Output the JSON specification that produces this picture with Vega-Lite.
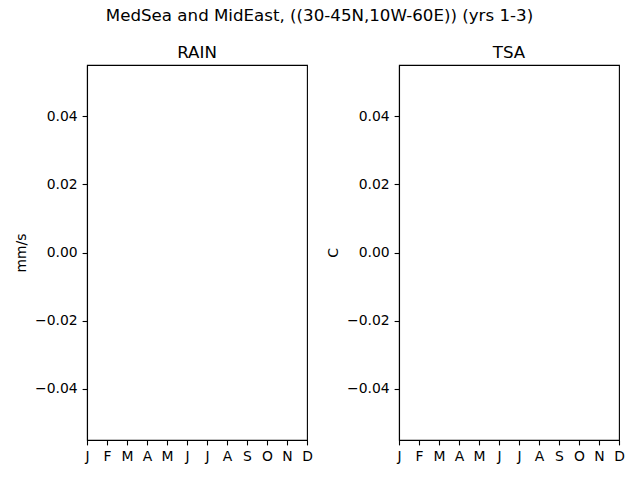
{
  "$schema": "https://vega.github.io/schema/vega-lite/v6.json",
  "padding": {"left": 14, "top": 8, "right": 5, "bottom": 5},
  "background": "white",
  "data": {
    "values": [
      {"month": 0, "RAIN": null, "TSA": null},
      {"month": 1, "RAIN": null, "TSA": null},
      {"month": 2, "RAIN": null, "TSA": null},
      {"month": 3, "RAIN": null, "TSA": null},
      {"month": 4, "RAIN": null, "TSA": null},
      {"month": 5, "RAIN": null, "TSA": null},
      {"month": 6, "RAIN": null, "TSA": null},
      {"month": 7, "RAIN": null, "TSA": null},
      {"month": 8, "RAIN": null, "TSA": null},
      {"month": 9, "RAIN": null, "TSA": null},
      {"month": 10, "RAIN": null, "TSA": null},
      {"month": 11, "RAIN": null, "TSA": null}
    ]
  },
  "title": {
    "text": "MedSea and MidEast, ((30-45N,10W-60E)) (yrs 1-3)",
    "fontSize": 16.67,
    "fontWeight": "normal",
    "anchor": "middle",
    "offset": 20
  },
  "config": {
    "font": "DejaVu Sans",
    "concat": {"spacing": 13},
    "view": {"stroke": "black", "strokeWidth": 1.1},
    "title": {"color": "black"},
    "axis": {
      "grid": false,
      "domainColor": "black",
      "domainWidth": 1.1,
      "tickColor": "black",
      "tickWidth": 1.1,
      "tickSize": 4.9,
      "labelColor": "black",
      "labelFontSize": 13.9,
      "labelPadding": 4.9,
      "titleColor": "black",
      "titleFontSize": 13.9,
      "titleFontWeight": "normal"
    }
  },
  "hconcat": [
    {
      "width": 220,
      "height": 375,
      "title": {"text": "RAIN", "fontSize": 16.67, "fontWeight": "normal", "offset": 3},
      "mark": {"type": "point", "opacity": 0},
      "encoding": {
        "x": {
          "field": "month",
          "type": "quantitative",
          "scale": {"domain": [0, 11], "nice": false, "zero": false},
          "axis": {
            "title": null,
            "values": [0, 1, 2, 3, 4, 5, 6, 7, 8, 9, 10, 11],
            "labelExpr": "['J','F','M','A','M','J','J','A','S','O','N','D'][datum.value]",
            "labelFlush": false
          }
        },
        "y": {
          "field": "RAIN",
          "type": "quantitative",
          "scale": {"domain": [-0.055, 0.055], "nice": false, "zero": false},
          "axis": {
            "title": "mm/s",
            "values": [-0.04, -0.02, 0, 0.02, 0.04],
            "format": ".2f",
            "titlePadding": 6
          }
        }
      }
    },
    {
      "width": 220,
      "height": 375,
      "title": {"text": "TSA", "fontSize": 16.67, "fontWeight": "normal", "offset": 3},
      "mark": {"type": "point", "opacity": 0},
      "encoding": {
        "x": {
          "field": "month",
          "type": "quantitative",
          "scale": {"domain": [0, 11], "nice": false, "zero": false},
          "axis": {
            "title": null,
            "values": [0, 1, 2, 3, 4, 5, 6, 7, 8, 9, 10, 11],
            "labelExpr": "['J','F','M','A','M','J','J','A','S','O','N','D'][datum.value]",
            "labelFlush": false
          }
        },
        "y": {
          "field": "TSA",
          "type": "quantitative",
          "scale": {"domain": [-0.055, 0.055], "nice": false, "zero": false},
          "axis": {
            "title": "C",
            "values": [-0.04, -0.02, 0, 0.02, 0.04],
            "format": ".2f",
            "titlePadding": 6
          }
        }
      }
    }
  ]
}
